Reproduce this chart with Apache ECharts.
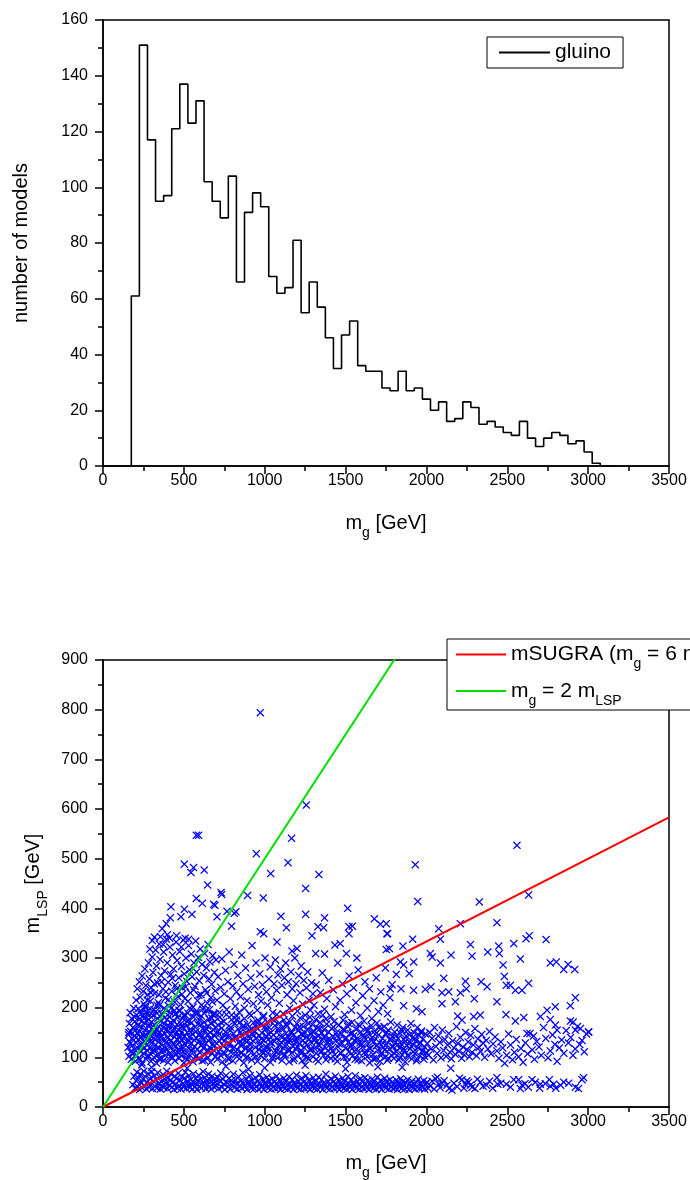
<!DOCTYPE html>
<html>
<head>
<meta charset="utf-8">
<script src="https://cdn.jsdelivr.net/npm/echarts@6/dist/echarts.min.js"></script>
<style>html,body{margin:0;padding:0;background:#fff}#c{width:690px;height:1180px}</style>
</head>
<body>
<div id="c"></div>
<script>
// ---------------- Histogram (gluino mass) ----------------
var histStart = 175;   // GeV, left edge of first bin
var binWidth = 50;     // GeV
var gluinoCounts = [61,151,117,95,97,121,137,123,131,102,95,89,104,66,91,98,93,68,62,64,81,55,66,57,46,35,47,52,36,34,34,28,27,34,27,28,24,20,23,16,17,23,21,15,16,14,12,11,16,10,7,10,12,11,8,9,5,1,0,0];
var histXTicks = [0,500,1000,1500,2000,2500,3000,3500];
var histYTicks = [0,20,40,60,80,100,120,140,160];

// ---------------- Scatter (m_gluino vs m_LSP), flat x,y pairs in GeV ----------------
var lowBandLeft = [185,45,192,62,198,38,205,53,210,70,214,41,220,58,226,35,231,66,236,48,241,39,247,56,252,72,258,43,262,61,268,36,273,50,279,67,284,40,290,57,295,45,301,71,306,37,312,52,317,63,322,42,328,55,333,38,339,69,344,47,350,60,355,36,361,51,366,43,372,65,377,39,383,56,388,48,394,72,399,37,405,59,410,44,416,53,421,66,427,40,432,50,438,35,443,62,449,46,454,57,460,38,465,68,471,43,476,54,482,36,487,61,493,47,498,40,504,58,509,70,515,37,520,51,526,44,531,63,537,39,542,55,548,46,553,36,559,67,564,49,570,41,575,58,581,35,586,52,592,64,597,42,603,56,608,38,614,48,619,71,625,44,630,59,636,37,641,53,647,45,652,66,658,40,663,55,669,36,674,62,680,47,685,41,691,57,696,50];
var lowBandMid = [702,43,709,60,715,37,722,52,728,68,735,40,741,56,748,46,754,35,761,63,767,49,774,41,780,58,787,36,793,53,800,45,806,66,813,39,819,55,826,47,832,36,839,61,845,43,852,52,858,38,865,69,871,48,878,41,884,57,891,35,897,50,904,44,910,63,917,38,923,54,930,46,936,37,943,59,949,42,956,51,962,36,969,65,975,47,982,40,988,56,995,35,1001,49,1008,43,1014,60,1021,38,1027,53,1034,45,1040,36,1047,57,1053,41,1060,50,1066,37,1073,62,1079,46,1086,39,1092,54,1099,35,1105,48,1112,42,1118,58,1125,37,1131,51,1138,44,1144,36,1151,61,1157,47,1164,40,1170,55,1177,35,1183,49,1190,43,1196,64,1203,38,1209,52,1216,45,1222,36,1229,58,1235,41,1242,50,1248,37,1255,63,1261,46,1268,39,1274,54,1281,35,1287,48,1294,42,1300,59,1307,37,1313,51,1320,44,1326,36,1333,60,1339,47,1346,40,1352,55,1359,35,1365,49,1372,43,1378,66,1385,38,1391,52,1398,45,1404,36,1411,57,1417,41,1424,50,1430,37,1437,62,1443,46,1450,39,1456,54,1463,35,1469,48,1476,42,1482,58,1489,37,1495,51,1502,44,1508,36,1515,61,1521,47,1528,40,1534,55,1541,35,1547,49,1554,43,1560,63,1567,38,1573,52,1580,45,1586,36,1593,57,1599,41,1606,50,1612,37,1619,59,1625,46,1632,39,1638,54,1645,35,1651,48,1658,42,1664,56,1671,37,1677,51,1684,44,1690,36,1697,60,1703,47,1710,40,1716,53,1723,35,1729,49,1736,43,1742,58,1749,38,1755,52,1762,45,1768,36,1775,55,1781,41,1788,50,1794,37,1801,46,1807,39,1814,54,1820,35,1827,48,1833,42,1840,57,1846,37,1853,51,1859,44,1866,36,1872,49,1879,40,1885,55,1892,35,1898,47,1905,43,1911,52,1918,38,1924,45,1931,36,1937,50,1944,41,1950,56,1957,37,1963,48,1970,44,1976,39,1983,53,1989,36,1996,46];
var lowBandRight = [2004,50,2024,42,2055,57,2076,46,2096,48,2127,44,2158,34,2220,55,2241,46,2261,50,2282,40,2333,50,2371,44,2436,59,2441,46,2494,46,2570,55,2581,37,2591,44,2653,55,2674,50,2705,46,2735,47,2766,42,2787,46,2849,50,2921,40,2962,55,2972,59,2010,38,2035,52,2048,36,2068,60,2085,39,2110,53,2140,37,2170,48,2190,41,2205,58,2232,38,2250,53,2272,44,2300,37,2315,56,2350,42,2390,52,2410,38,2460,48,2520,40,2540,55,2610,47,2630,40,2700,38,2760,55,2800,38,2830,44,2880,48,2940,37];
var gapPoints = [300,80,520,78,760,82,1000,79,1250,84,1500,77,1700,81,240,85,900,76,1850,80,2150,78];
var midBandLeft = [155,120,158,145,160,102,163,168,165,131,168,190,170,111,172,152,175,96,177,178,180,138,182,124,185,160,187,107,190,199,192,143,195,116,197,172,200,92,202,155,205,129,207,185,210,104,212,148,215,165,217,118,220,136,222,98,225,176,227,152,230,112,232,194,235,140,237,126,240,161,242,89,245,147,247,183,250,108,252,132,255,170,257,119,260,203,262,141,265,97,267,158,270,125,272,187,275,113,277,150,280,134,282,176,285,102,287,163,290,120,292,198,295,144,297,92,300,171,302,129,305,155,307,110,310,184,312,138,315,100,317,166,320,123,322,147,325,192,327,115,330,157,332,88,335,140,337,178,340,106,342,131,345,162,347,119,350,205,352,150,355,97,357,173,360,127,362,143,365,110,367,186,370,135,372,160,375,94,377,121,380,168,382,148,385,104,387,196,390,130,392,156,395,116,397,176,400,139,402,90,405,164,407,125,410,182,412,108,415,145,417,170,420,119,422,134,425,200,427,100,430,152,432,128,435,174,437,112,440,158,442,141,445,93,447,187,450,123,452,149,455,106,457,166,460,136,462,180,465,115,467,155,470,98,472,130,475,193,477,144,480,120,482,168,485,103,487,151,490,135,492,178,495,111,497,160,500,89,503,142,506,126,509,185,512,107,515,163,518,132,521,150,524,96,527,174,530,118,533,141,536,199,539,104,542,157,545,128,548,170,551,113,554,146,557,91,560,181,563,135,566,122,569,161,572,101,575,152,578,138,581,190,584,116,587,167,590,97,593,131,596,175,599,109,602,148,605,124,608,183,611,142,614,93,617,158,620,119,623,136,626,171,629,105,632,153,635,128,638,195,641,112,644,145,647,163,650,99,653,133,656,177,659,120,662,150,665,90,668,168,671,139,674,108,677,186,680,127,683,155,686,114,689,172,692,143,695,101,698,161];
var midBandCenter = [703,128,707,96,711,165,715,112,719,147,723,181,727,104,731,138,735,159,739,91,743,123,747,172,751,133,755,108,759,151,763,186,767,117,771,142,775,98,779,163,783,127,787,154,791,110,795,176,799,137,803,93,807,148,811,121,815,168,819,105,823,140,827,183,831,115,835,157,839,130,843,97,847,171,851,124,855,145,859,109,863,162,867,136,871,89,875,178,879,118,883,150,887,131,891,101,895,166,899,141,903,113,907,155,911,125,915,184,919,95,923,146,927,133,931,170,935,107,939,152,943,120,947,161,951,139,955,92,959,175,963,116,967,144,971,128,975,103,979,167,983,149,987,112,991,181,995,134,999,97,1003,157,1007,122,1011,143,1015,171,1019,108,1023,136,1027,160,1031,118,1035,90,1039,150,1043,128,1047,177,1051,102,1055,145,1059,132,1063,164,1067,114,1071,139,1075,186,1079,99,1083,153,1087,124,1091,169,1095,110,1099,142,1103,130,1107,94,1111,158,1115,119,1119,175,1123,137,1127,105,1131,148,1135,126,1139,163,1143,115,1147,140,1151,91,1155,172,1159,133,1163,152,1167,109,1171,183,1175,122,1179,145,1183,98,1187,160,1191,131,1195,116,1199,168,1203,138,1207,103,1211,155,1215,127,1219,179,1223,112,1227,147,1231,93,1235,134,1239,162,1243,120,1247,150,1251,106,1255,173,1259,141,1263,125,1267,157,1271,97,1275,136,1279,181,1283,114,1287,146,1291,129,1295,166,1299,101,1303,153,1307,118,1311,140,1315,176,1319,108,1323,132,1327,159,1331,92,1335,144,1339,124,1343,170,1347,111,1351,149,1355,135,1359,185,1363,104,1367,156,1371,121,1375,142,1379,95,1383,167,1387,130,1391,113,1395,151,1399,138];
var midBandRight = [1404,126,1409,98,1414,158,1419,113,1424,141,1429,172,1434,105,1439,133,1444,150,1449,92,1454,121,1459,165,1464,137,1469,109,1474,147,1479,128,1484,175,1489,100,1494,155,1499,118,1504,139,1509,90,1514,162,1519,131,1524,112,1529,148,1534,124,1539,170,1544,103,1549,143,1554,134,1559,96,1564,157,1569,117,1574,138,1579,166,1584,108,1589,129,1594,151,1599,93,1604,121,1609,144,1614,173,1619,111,1624,136,1629,158,1634,101,1639,127,1644,147,1649,89,1654,118,1659,164,1664,140,1669,106,1674,132,1679,153,1684,97,1689,123,1694,169,1699,114,1704,145,1709,130,1714,92,1719,158,1724,109,1729,138,1734,120,1739,162,1744,100,1749,147,1754,126,1759,94,1764,155,1769,116,1774,135,1779,171,1784,104,1789,142,1794,122,1799,98,1804,151,1809,130,1814,111,1819,165,1824,138,1829,95,1834,119,1839,148,1844,127,1849,105,1854,160,1859,136,1864,113,1869,91,1874,143,1879,124,1884,155,1889,102,1894,131,1899,117,1904,168,1909,97,1914,139,1919,125,1924,150,1929,108,1934,133,1939,93,1944,160,1949,119,1954,144,1959,103,1964,129,1969,153,1974,112,1979,137,1984,96,1989,121,1994,147,1999,110];
var midBandExtra = [160,150,171,128,183,108,194,181,206,140,218,165,229,95,241,122,253,178,264,146,276,103,288,168,299,134,311,115,323,151,334,189,346,97,358,142,369,116,381,180,393,131,404,154,416,101,428,167,439,125,451,188,463,110,474,139,486,162,498,119,509,98,521,172,533,133,544,151,556,117,568,190,579,104,591,145,603,166,614,127,626,94,638,158,649,114,661,137,673,179,684,122,696,102,708,153,720,133,731,170,743,109,755,143,767,127,778,96,790,160,802,118,814,139,825,175,837,105,849,150,861,128,872,163,884,99,896,134,908,117,919,156,931,143,943,100,955,169,966,125,978,137,990,108,1002,162,1013,119,1025,146,1037,131,1049,97,1060,174,1072,111,1084,158,1096,126,1107,140,1119,104,1131,167,1143,133,1154,115,1166,149,1178,94,1190,137,1201,122,1213,161,1225,108,1237,143,1248,129,1260,99,1272,168,1284,117,1295,152,1307,135,1319,96,1331,125,1342,158,1354,112,1366,140,1378,177,1389,103,1401,133,1413,118,1425,161,1436,97,1448,143,1460,127,1472,108,1483,156,1495,137,1507,100,1519,168,1530,121,1542,149,1554,112,1566,131,1577,95,1589,163,1601,126,1613,140,1624,106,1636,153,1648,118,1660,134,1671,97,1683,146,1695,124,1707,160,1718,103,1730,129,1742,115,1754,150,1765,98,1777,137,1789,121,1801,108,1812,143,1824,126,1836,99,1848,155,1860,117,1871,132,1883,104,1895,145,1907,122,1918,111,1930,138,1942,97,1954,127,1966,150,1977,114,1989,102];
var midBandFar = [2005,128,2012,104,2020,150,2027,117,2035,138,2043,95,2050,160,2058,122,2066,108,2074,143,2082,130,2090,99,2098,155,2106,114,2114,136,2122,102,2130,125,2138,148,2146,110,2154,97,2162,133,2170,119,2178,106,2186,162,2194,128,2202,112,2210,140,2218,98,2226,121,2234,105,2242,150,2250,116,2258,131,2266,101,2274,144,2282,110,2290,125,2300,158,2310,103,2318,137,2326,120,2334,112,2342,146,2350,129,2360,100,2370,134,2380,117,2390,152,2400,107,2412,127,2424,141,2436,113,2448,98,2460,131,2472,119,2484,88,2496,104,2508,147,2520,125,2532,95,2544,110,2556,136,2570,101,2584,118,2598,90,2612,129,2626,107,2640,148,2654,115,2668,96,2682,132,2696,121,2710,104,2724,160,2738,138,2752,99,2766,113,2780,145,2794,126,2808,92,2822,119,2836,135,2850,108,2864,154,2878,129,2892,140,2906,104,2920,117,2934,162,2948,126,2962,134,2976,111,2990,147,3003,151];
var upperLeft = [205,215,212,238,218,198,225,252,230,221,236,188,242,264,248,233,254,207,259,278,265,245,270,192,276,226,282,290,287,258,293,213,298,240,304,302,309,271,315,196,320,229,326,316,331,284,337,250,342,210,348,328,353,297,359,265,364,187,370,238,375,312,381,274,386,219,392,338,397,290,403,251,408,203,414,322,419,267,425,233,430,306,436,278,441,194,447,245,452,332,458,295,463,222,469,260,474,313,480,206,485,283,491,240,496,336,502,268,507,218,513,300,518,253,524,189,529,325,535,276,540,230,546,308,551,262,557,201,562,290,568,243,573,334,579,272,584,214,590,301,595,254,601,318,606,226,612,287,617,197,623,265,628,309,634,236,639,280,645,209,650,327,656,258,661,292,667,220,672,247,678,305,683,186,689,271,694,234,699,296,262,200,274,215,288,185,296,230,318,248,334,205,346,226,362,252,378,199,389,232,404,216,416,190,428,259,444,211,456,238,470,195,488,227,499,184,511,242,526,213,544,196,560,236,576,188,592,225,610,205,626,189,642,230,658,196,676,212,692,188,290,318,305,335,318,342,355,343,372,327,398,347,412,340,455,345,484,322,508,340,530,338];
var upperMid = [705,215,712,262,720,190,728,241,735,298,742,205,750,228,758,275,765,196,772,252,780,312,788,218,795,185,803,244,810,287,818,203,826,232,834,265,842,191,850,222,858,306,866,248,874,199,882,280,890,214,898,237,906,188,914,260,922,325,930,208,938,243,946,290,954,195,962,226,970,268,978,213,986,246,994,184,1002,300,1010,232,1018,205,1026,258,1034,282,1042,220,1050,190,1058,248,1066,296,1074,235,1082,266,1090,209,1098,278,1106,245,1114,188,1122,260,1130,290,1138,226,1146,252,1154,199,1162,272,1170,238,1178,214,1186,300,1194,248,1202,193,1210,265,1218,230,1226,284,1234,207,1242,255,1250,185,1258,240,1266,272,1274,215,1282,195,1290,250,1298,228];
var upperRight = [1305,205,1318,246,1330,188,1344,230,1356,270,1370,197,1384,218,1396,255,1410,182,1424,236,1438,202,1452,290,1466,215,1480,248,1494,186,1508,228,1522,264,1536,195,1550,240,1564,210,1578,276,1592,184,1606,224,1620,252,1634,199,1648,238,1662,178,1676,214,1690,260,1704,192,1718,232,1732,205,1746,280,1760,188,1774,220,1788,246];
var outliersLeft = [973,794,1257,608,577,547,591,547,1166,541,948,510,503,489,560,482,544,472,626,477,1037,470,1144,492,1335,468,647,447,1253,440,730,432,734,428,894,426,991,421,577,420,614,410,684,408,692,406,420,403,503,398,767,394,822,393,1513,400,416,381,482,383,550,388,705,383,812,390,1100,384,1253,388,1370,381,795,364,1134,361,1329,363,1364,361,1678,379,1715,368,366,359,391,369,973,353,994,349,1521,363,1542,364,1756,349,1292,345,1521,349,1076,332,1169,314,1200,319,1315,309,1370,308,1434,326,1467,329,1505,309,1570,300,1752,317];
var outliersRight = [2560,527,1931,488,1946,414,2632,427,2327,413,2436,371,2210,369,2076,359,2086,338,1760,349,1752,369,1915,338,2616,339,2636,345,2740,337,2272,327,2540,329,2447,324,1855,324,1771,319,2024,309,2035,302,2152,306,2282,304,2379,312,2451,309,2581,298,1921,292,2086,290,1839,292,1859,286,2474,286,2766,290,2803,292,2849,277,2876,287,2917,277,1814,267,1894,269,2482,263,2107,259,2241,253,2338,252,2494,245,2519,245,2632,249,1777,238,1843,238,1921,235,1993,237,2028,242,2096,230,2138,232,2210,230,2247,238,2375,242,2550,235,2591,235,2921,220,2296,218,2436,212,1859,204,1938,198,1973,192,2179,212,2096,208,2746,195,2797,202,2890,204,2193,183,2220,175,2292,182,2333,185,2492,186,2550,173,2602,180,2705,182,2890,173,2907,171,2766,176,2797,165,2808,155,2952,158,3003,151,2921,155,2663,143,2622,148];

// reference lines: m_LSP = m_g / ratio
var msugraRatio = 6;
var halfRatio = 2;
var lineX = [0, 3500];
var scatterXTicks = [0,500,1000,1500,2000,2500,3000,3500];
var scatterYTicks = [0,100,200,300,400,500,600,700,800,900];

// ---------------- build ----------------
var histData = [[0, 0]];
for (var i = 0; i < gluinoCounts.length; i++) {
  histData.push([histStart + i * binWidth, gluinoCounts[i]]);
}
histData.push([histStart + gluinoCounts.length * binWidth, 0]);

function pairs(arr) { var out = []; for (var k = 0; k + 1 < arr.length; k += 2) out.push([arr[k], arr[k + 1]]); return out; }
var scatterData = [].concat(
  pairs(lowBandLeft), pairs(lowBandMid), pairs(lowBandRight), pairs(gapPoints),
  pairs(midBandLeft), pairs(midBandCenter), pairs(midBandRight), pairs(midBandExtra), pairs(midBandFar),
  pairs(upperLeft), pairs(upperMid), pairs(upperRight), pairs(outliersLeft), pairs(outliersRight)
);
var msugraLine = lineX.map(function (x) { return [x, x / msugraRatio]; });
var halfLine = lineX.map(function (x) { return [x, x / halfRatio]; });

var FONT = 'Liberation Sans, Arial, Helvetica, sans-serif';
var SUB = { fontSize: 14, fontFamily: FONT, color: '#000', padding: [20, 0, 0, 0] };
function plain(v) { return String(v); }

function xAxisCfg(idx, ticks, nameGap) {
  return {
    type: 'value', gridIndex: idx, min: ticks[0], max: ticks[ticks.length - 1], interval: ticks[1] - ticks[0],
    name: 'm{s|g} [GeV]', nameLocation: 'middle', nameGap: nameGap,
    nameTextStyle: { fontSize: 20, fontFamily: FONT, color: '#000', rich: { s: SUB } },
    axisLine: { show: true, onZero: false, lineStyle: { color: '#000', width: 1.5 } },
    axisTick: { show: true, inside: false, length: 8, lineStyle: { color: '#000', width: 1.5 } },
    minorTick: { show: true, splitNumber: 2, length: 5, lineStyle: { color: '#000', width: 1.5 } },
    axisLabel: { fontSize: 16, fontFamily: FONT, color: '#000', margin: 7, formatter: plain },
    splitLine: { show: false }, minorSplitLine: { show: false }
  };
}
function yAxisCfg(idx, ticks, name, nameGap) {
  return {
    type: 'value', gridIndex: idx, min: ticks[0], max: ticks[ticks.length - 1], interval: ticks[1] - ticks[0],
    name: name, nameLocation: 'middle', nameGap: nameGap,
    nameTextStyle: { fontSize: 20, fontFamily: FONT, color: '#000', rich: { s: SUB } },
    axisLine: { show: true, onZero: false, lineStyle: { color: '#000', width: 1.5 } },
    axisTick: { show: true, inside: false, length: 8, lineStyle: { color: '#000', width: 1.5 } },
    minorTick: { show: true, splitNumber: 2, length: 5, lineStyle: { color: '#000', width: 1.5 } },
    axisLabel: { fontSize: 16, fontFamily: FONT, color: '#000', margin: 15, formatter: plain },
    splitLine: { show: false }, minorSplitLine: { show: false }
  };
}

var legendNames = {
  'gluino': 'gluino',
  'mSUGRA': 'mSUGRA (m{s|g} = 6 m{s|LSP})',
  'half': 'm{s|g} = 2 m{s|LSP}'
};

var chart = echarts.init(document.getElementById('c'), null, { renderer: 'canvas' });
chart.setOption({
  animation: false,
  backgroundColor: '#fff',
  grid: [
    { left: 103, top: 20, width: 566, height: 446, show: true, borderColor: '#000', borderWidth: 1.5, backgroundColor: 'transparent', containLabel: false, outerBoundsMode: 'none' },
    { left: 103, top: 660, width: 566, height: 447, show: true, borderColor: '#000', borderWidth: 1.5, backgroundColor: 'transparent', containLabel: false, outerBoundsMode: 'none' }
  ],
  xAxis: [xAxisCfg(0, histXTicks, 40), xAxisCfg(1, scatterXTicks, 39)],
  yAxis: [yAxisCfg(0, histYTicks, 'number of models', 72), yAxisCfg(1, scatterYTicks, 'm{s|LSP} [GeV]', 50)],
  legend: [
    {
      data: [{ name: 'gluino', icon: 'rect' }], left: 487, top: 37, orient: 'horizontal',
      padding: [5, 12, 5, 12], itemWidth: 51, itemHeight: 2, itemGap: 5,
      backgroundColor: '#fff', borderColor: '#000', borderWidth: 1,
      textStyle: { fontSize: 21, fontFamily: FONT, color: '#000' },
      formatter: function (n) { return legendNames[n]; }, selectedMode: false
    },
    {
      data: [{ name: 'mSUGRA', icon: 'rect' }, { name: 'half', icon: 'rect' }], left: 447, top: 639, orient: 'vertical',
      padding: [5, 10, 2, 9], itemWidth: 50, itemHeight: 2, itemGap: 9,
      backgroundColor: '#fff', borderColor: '#000', borderWidth: 1,
      textStyle: { fontSize: 21, fontFamily: FONT, color: '#000', rich: { s: SUB } },
      formatter: function (n) { return legendNames[n]; }, selectedMode: false
    }
  ],
  series: [
    {
      name: 'gluino', type: 'line', xAxisIndex: 0, yAxisIndex: 0, step: 'end',
      data: histData, symbol: 'none', showSymbol: false,
      lineStyle: { color: '#000', width: 1.6 }, itemStyle: { color: '#000' }, z: 3
    },
    {
      name: 'models', type: 'scatter', xAxisIndex: 1, yAxisIndex: 1, data: scatterData,
      symbol: 'path://M0,1.1L1.1,0L5,3.9L8.9,0L10,1.1L6.1,5L10,8.9L8.9,10L5,6.1L1.1,10L0,8.9L3.9,5Z',
      symbolSize: 8, itemStyle: { color: '#0000ff', opacity: 1 }, progressive: 0, large: false, z: 2,
      emphasis: { disabled: true }
    },
    {
      name: 'mSUGRA', type: 'line', xAxisIndex: 1, yAxisIndex: 1, data: msugraLine,
      symbol: 'none', lineStyle: { color: '#ff0000', width: 2 }, itemStyle: { color: '#ff0000' }, z: 4
    },
    {
      name: 'half', type: 'line', xAxisIndex: 1, yAxisIndex: 1, data: halfLine,
      symbol: 'none', lineStyle: { color: '#00dd00', width: 2 }, itemStyle: { color: '#00dd00' }, z: 4, clip: true
    }
  ]
});
</script>
</body>
</html>
